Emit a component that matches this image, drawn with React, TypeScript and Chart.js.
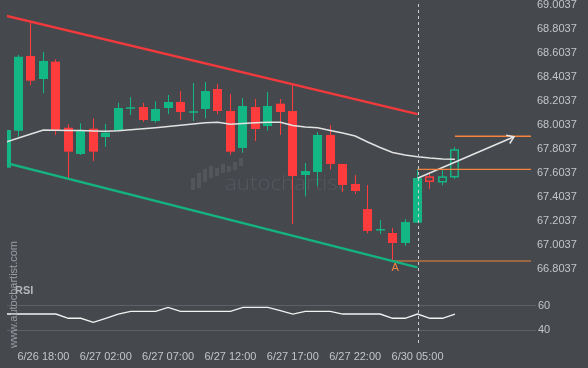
import React, { useEffect, useRef } from "react";
import { Chart, registerables } from "chart.js";

Chart.register(...registerables);

// ---- data ----
const tickIndex = [3, 8, 13, 18, 23, 28, 33];
const tickLabels = ["6/26 18:00", "6/27 02:00", "6/27 07:00", "6/27 12:00", "6/27 17:00", "6/27 22:00", "6/30 05:00"];
const priceTicks = [69.0037, 68.8037, 68.6037, 68.4037, 68.2037, 68.0037, 67.8037, 67.6037, 67.4037, 67.2037, 67.0037, 66.8037];
const rsiTicks = [60, 40];

const open = [67.649, 67.956, 68.577, 68.386, 68.530, 67.981, 67.763, 67.973, 67.904, 67.954, 68.151, 68.153, 68.037, 68.145, 68.195, 68.118, 68.137, 68.303, 68.120, 67.813, 68.153, 67.995, 68.181, 68.120, 67.588, 67.613, 67.921, 67.680, 67.513, 67.305, 67.139, 67.106, 67.023, 67.192, 67.571, 67.532, 67.574];
const high = [67.962, 68.586, 68.854, 68.611, 68.550, 68.010, 68.018, 68.059, 68.012, 68.189, 68.236, 68.187, 68.201, 68.253, 68.286, 68.353, 68.361, 68.345, 68.261, 68.228, 68.220, 68.278, 68.220, 68.336, 67.688, 67.946, 68.004, 67.680, 67.588, 67.505, 67.214, 67.148, 67.222, 67.638, 67.605, 67.630, 67.821];
const low = [67.649, 67.906, 68.334, 68.267, 67.921, 67.561, 67.754, 67.704, 67.823, 67.954, 68.087, 68.029, 68.023, 68.095, 68.045, 68.037, 68.059, 68.093, 67.757, 67.773, 67.871, 67.956, 67.921, 67.181, 67.411, 67.497, 67.635, 67.447, 67.430, 67.103, 67.098, 66.873, 66.998, 67.192, 67.472, 67.502, 67.555];
const close = [67.962, 68.571, 68.372, 68.536, 67.962, 67.782, 67.962, 67.782, 67.940, 68.145, 68.151, 68.045, 68.137, 68.195, 68.112, 68.118, 68.286, 68.120, 67.782, 68.162, 67.970, 68.162, 68.112, 67.580, 67.621, 67.921, 67.680, 67.505, 67.455, 67.123, 67.139, 67.023, 67.197, 67.563, 67.536, 67.571, 67.796];
const movingAvg = [67.862, 67.896, 67.929, 67.962, 67.960, 67.958, 67.958, 67.954, 67.951, 67.956, 67.965, 67.973, 67.981, 67.991, 68.001, 68.012, 68.023, 68.026, 68.010, 68.016, 68.023, 68.026, 68.026, 68.000, 67.987, 67.981, 67.958, 67.937, 67.912, 67.862, 67.817, 67.775, 67.754, 67.740, 67.729, 67.721, 67.719];
const rsi = [53.4, 53.4, 53.4, 53.4, 53.4, 49.9, 49.9, 46.6, 49.9, 53.4, 55.6, 55.6, 55.6, 58.9, 55.6, 55.6, 55.6, 55.6, 55.6, 58.9, 58.9, 58.9, 56.1, 53.4, 55.6, 55.6, 55.6, 53.4, 53.4, 53.4, 53.4, 49.9, 49.9, 53.4, 49.9, 49.9, 53.4];
const hollowFrom = 34;

const channelX = [0, 33];
const channelTop = [68.911, 68.094];
const channelBottom = [67.688, 66.820];
const pointAIndex = 31;
const pointAPrice = 66.873;
const breakoutIndex = 33;
const breakoutPrice = 67.635;
const targetIndex = 36;
const targetPrice = 67.910;
const forecastX = [33, 40.74];
const forecastY = [67.561, 67.906];

const X_MIN = 0.08;
const X_MAX = 42.1;
const PRICE_MIN = 66.682;
const PRICE_MAX = 69.0095;
const RSI_MIN = 27.08;
const RSI_MAX = 78.1;

// ---- styles ----
const BG = "#45484d";
const GREEN = "#13b784";
const RED = "#fe3b3d";
const CH_RED = "#f23a3c";
const CH_GREEN = "#14b37f";
const ORANGE = "#f4833f";
const LABEL = "#c3c5c8";
const FONT = "'Liberation Sans', Arial, sans-serif";

const decorPlugin = {
  id: "decor",
  beforeDraw(chart: any) {
    const { ctx, width, height } = chart;
    ctx.save();
    ctx.fillStyle = BG;
    ctx.fillRect(0, 0, width, height);
    ctx.restore();
  },
  beforeDatasetsDraw(chart: any) {
    const { ctx, chartArea } = chart;
    const xs = chart.scales.x;
    const ys = chart.scales.y;
    ctx.save();
    // watermark bars
    ctx.fillStyle = "#53575c";
    const bars = [[191, 178, 190], [197, 173, 188], [203, 169, 182], [209, 166, 178], [215, 168, 176], [221, 164, 173], [227, 166, 172], [233, 162, 170], [239, 158, 166]];
    bars.forEach((b) => ctx.fillRect(b[0], b[1], 4, b[2] - b[1]));
    // watermark text
    ctx.font = `300 20px 'Open Sans', ${FONT}`;
    const w = ctx.measureText("autochartist").width;
    ctx.save();
    ctx.translate(225, 190);
    ctx.scale(120 / w, 1);
    ctx.fillStyle = "#55595e";
    ctx.textBaseline = "alphabetic";
    ctx.fillText("autochartist", 0, 0);
    ctx.restore();

    // candles
    ctx.beginPath();
    ctx.rect(chartArea.left, ys.top, chartArea.right - chartArea.left, ys.bottom - ys.top);
    ctx.clip();
    const step = xs.getPixelForValue(1) - xs.getPixelForValue(0);
    const bw = Math.round(step * 0.72);
    for (let i = 0; i < open.length; i++) {
      const x = xs.getPixelForValue(i);
      const up = close[i] >= open[i];
      const col = up ? GREEN : RED;
      const yo = ys.getPixelForValue(open[i]);
      const yc = ys.getPixelForValue(close[i]);
      const yh = ys.getPixelForValue(high[i]);
      const yl = ys.getPixelForValue(low[i]);
      const top = Math.min(yo, yc);
      const bot = Math.max(yo, yc);
      const left = Math.round(x - bw / 2);
      const wx = Math.floor(x);
      ctx.fillStyle = col;
      if (i >= hollowFrom) {
        ctx.fillRect(wx, yh, 1, top - yh);
        ctx.fillRect(wx, bot, 1, yl - bot);
        ctx.strokeStyle = col;
        ctx.lineWidth = 1.5;
        ctx.strokeRect(left + 0.75, top, bw - 1.5, Math.max(bot - top, 1.5));
      } else {
        ctx.fillRect(wx, yh, 1, yl - yh);
        ctx.fillRect(left, top, bw, Math.max(bot - top, 1.5));
      }
    }
    ctx.restore();
  },
  afterDatasetsDraw(chart: any) {
    const { ctx, chartArea } = chart;
    const xs = chart.scales.x;
    const ys = chart.scales.y;
    ctx.save();
    // vertical dashed line at breakout
    const dx = Math.round(xs.getPixelForValue(breakoutIndex)) + 0.5;
    ctx.strokeStyle = "#c9cbcd";
    ctx.lineWidth = 1;
    ctx.setLineDash([3, 3]);
    ctx.beginPath();
    ctx.moveTo(dx, chartArea.top);
    ctx.lineTo(dx, chartArea.bottom);
    ctx.stroke();
    ctx.setLineDash([]);

    // arrow head
    const x1 = xs.getPixelForValue(forecastX[0]);
    const y1 = ys.getPixelForValue(forecastY[0]);
    const x2 = xs.getPixelForValue(forecastX[1]);
    const y2 = ys.getPixelForValue(forecastY[1]);
    const ang = Math.atan2(y1 - y2, x1 - x2);
    const len = 8;
    ctx.strokeStyle = "#e4e4e4";
    ctx.lineWidth = 1.5;
    ctx.beginPath();
    ctx.moveTo(x2 + Math.cos(ang - 0.6) * len, y2 + Math.sin(ang - 0.6) * len);
    ctx.lineTo(x2, y2);
    ctx.lineTo(x2 + Math.cos(ang + 0.6) * len, y2 + Math.sin(ang + 0.6) * len);
    ctx.stroke();

    // "A" label
    ctx.fillStyle = ORANGE;
    ctx.font = `11px ${FONT}`;
    ctx.textAlign = "center";
    ctx.textBaseline = "middle";
    ctx.fillText("A", xs.getPixelForValue(pointAIndex) + 2.5, ys.getPixelForValue(pointAPrice) + 7);

    // RSI label
    const yr = chart.scales.yr;
    ctx.fillStyle = "#b3b6ba";
    ctx.font = `bold 11px ${FONT}`;
    ctx.textAlign = "left";
    ctx.fillText("RSI", 15, yr.top + 7);

    // vertical site text
    ctx.save();
    ctx.translate(13.5, 348);
    ctx.rotate(-Math.PI / 2);
    ctx.fillStyle = "#9a9ea3";
    ctx.font = `11px ${FONT}`;
    ctx.textAlign = "left";
    ctx.textBaseline = "middle";
    ctx.fillText("www.autochartist.com", 0, 0);
    ctx.restore();
    ctx.restore();
  },
};

const line = (data: any[], color: string, width: number, yAxisID = "y") => ({
  type: "line" as const,
  data,
  borderColor: color,
  borderWidth: width,
  pointRadius: 0,
  tension: 0,
  fill: false,
  yAxisID,
  xAxisID: "x",
});

export default function App() {
  const ref = useRef<HTMLCanvasElement>(null);
  useEffect(() => {
    if (!ref.current) return;
    const datasets: any[] = [
      line(channelX.map((x, i) => ({ x, y: channelTop[i] })), CH_RED, 2.5),
      line(channelX.map((x, i) => ({ x, y: channelBottom[i] })), CH_GREEN, 2.5),
      line(movingAvg.map((y, x) => ({ x, y })), "#e2e2e2", 1.5),
      line([{ x: pointAIndex, y: pointAPrice }, { x: X_MAX, y: pointAPrice }], ORANGE, 1.2),
      line([{ x: breakoutIndex, y: breakoutPrice }, { x: X_MAX, y: breakoutPrice }], ORANGE, 1.2),
      line([{ x: targetIndex, y: targetPrice }, { x: X_MAX, y: targetPrice }], ORANGE, 1.5),
      line(forecastX.map((x, i) => ({ x, y: forecastY[i] })), "#e4e4e4", 1.5),
      line(rsi.map((y, x) => ({ x, y })), "#f2f2f2", 1.3, "yr"),
    ];
    const chart = new Chart(ref.current, {
      type: "line",
      data: { datasets },
      plugins: [decorPlugin],
      options: {
        responsive: false,
        animation: false,
        devicePixelRatio: 1,
        layout: { padding: { left: 7, top: 4, right: 0, bottom: 0 } },
        plugins: { legend: { display: false }, tooltip: { enabled: false } },
        scales: {
          x: {
            type: "linear",
            min: X_MIN,
            max: X_MAX,
            position: "bottom",
            grid: { display: false, drawTicks: false },
            border: { display: false },
            ticks: {
              color: LABEL,
              font: { family: FONT, size: 11 },
              padding: 4,
              maxRotation: 0,
              autoSkip: false,
              callback: (v: any) => {
                const k = tickIndex.indexOf(Number(v));
                return k >= 0 ? tickLabels[k] : "";
              },
            },
            afterBuildTicks: (s: any) => {
              s.ticks = tickIndex.map((value) => ({ value }));
            },
            afterFit: (s: any) => {
              s.height = 22;
              s.paddingLeft = 0;
              s.paddingRight = 0;
            },
          },
          y: {
            type: "linear",
            position: "right",
            stack: "panes",
            stackWeight: 280,
            min: PRICE_MIN,
            max: PRICE_MAX,
            grid: { display: false, drawTicks: false },
            border: { display: false },
            ticks: {
              color: LABEL,
              font: { family: FONT, size: 11 },
              padding: 6,
              autoSkip: false,
              callback: (v: any) => Number(v).toFixed(4),
            },
            afterBuildTicks: (s: any) => {
              s.ticks = priceTicks.map((value) => ({ value }));
            },
            afterFit: (s: any) => {
              s.width = 57;
              s.paddingTop = 0;
              s.paddingBottom = 0;
            },
          },
          yr: {
            type: "linear",
            position: "right",
            stack: "panes",
            stackWeight: 62,
            min: RSI_MIN,
            max: RSI_MAX,
            grid: { color: "#5d6166", lineWidth: 1, drawTicks: true, tickLength: 5 },
            border: { display: false },
            ticks: {
              color: LABEL,
              font: { family: FONT, size: 11 },
              padding: 2,
              autoSkip: false,
              callback: (v: any) => String(v),
            },
            afterBuildTicks: (s: any) => {
              s.ticks = rsiTicks.map((value) => ({ value }));
            },
            afterFit: (s: any) => {
              s.width = 57;
              s.paddingTop = 0;
              s.paddingBottom = 0;
            },
          },
        },
      } as any,
    });
    return () => chart.destroy();
  }, []);
  return (
    <div style={{ position: "absolute", left: 0, top: 0, width: 588, height: 368, background: BG }}>
      <canvas ref={ref} width={588} height={368} style={{ display: "block", width: 588, height: 368 }} />
    </div>
  );
}
